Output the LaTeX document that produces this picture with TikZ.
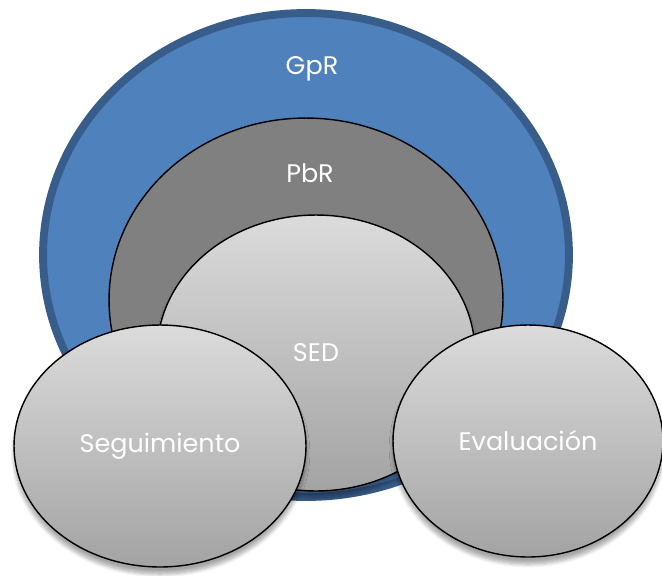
\documentclass[tikz,border=0pt]{standalone}
\usepackage{fontspec}
\setmainfont{Poppins}
\usepackage{tikz}
\usetikzlibrary{shapes.geometric,shadows.blur}
\definecolor{gprblue}{RGB}{79,129,189}
\definecolor{gprrim}{RGB}{56,93,138}

\begin{document}
\begin{tikzpicture}[x=0.02cm,y=-0.02cm,
    lbl/.style={text=white,font=\fontsize{14.5}{16}\selectfont},
    oval/.style={ellipse,draw=black,line width=0.8pt,inner sep=0pt},
    greyoval/.style={oval,top color=white!86!black,bottom color=white!64!black,
      blur shadow={shadow xshift=0pt,shadow yshift=-4pt,shadow opacity=35,shadow blur steps=8}}]
    \useasboundingbox (0,0) rectangle (662,575);
    % outer ring
    \node[ellipse,fill=gprblue,draw=gprrim,line width=4.5pt,minimum width=10.52cm,minimum height=9.68cm](gpr)at(306,255){};
    \node[lbl](gprtxt)at(312,69){GpR};
    \node[oval,fill=white!50!black,minimum width=7.88cm,minimum height=7.28cm](pbr)at(306,300){};
    \node[lbl](pbrtxt)at(310,173){PbR};
    % inner circles
    \node[greyoval,minimum width=6.36cm,minimum height=5.52cm](sed)at(316,353){};
    \node[lbl](sedtxt)at(sed.center){SED};
    \node[greyoval,lbl,minimum width=5.84cm,minimum height=4.84cm](seg)at(160,446){Seguimiento};
    \node[greyoval,lbl,minimum width=5.4cm,minimum height=4.64cm](eval)at(528,441){Evaluación};
\end{tikzpicture}
\end{document}
